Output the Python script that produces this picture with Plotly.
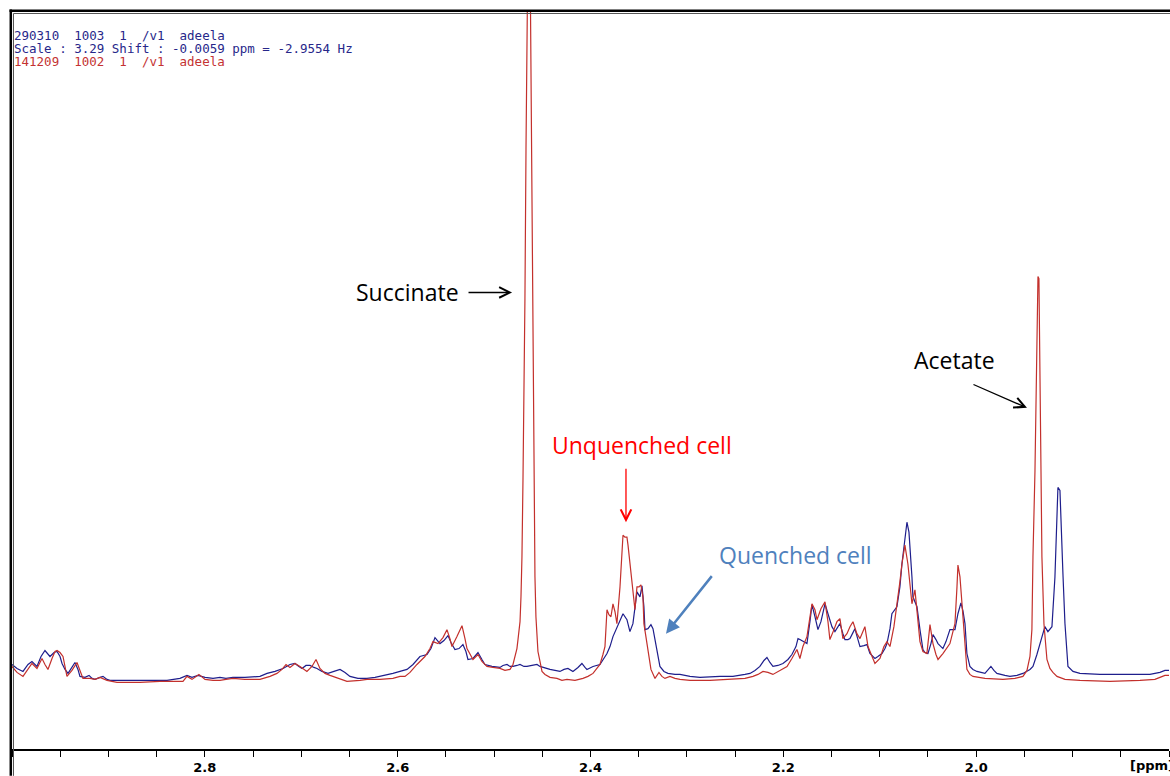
import plotly.graph_objects as go

# 1H NMR overlay, 1.8 - 3.0 ppm
# Quenched sample (290310 1003), blue trace
quenched_ppm = [
    3.0000, 2.9948, 2.9886, 2.9834, 2.9793, 2.9741, 2.9699, 2.9658, 2.9606, 2.9564,
    2.9533, 2.9502, 2.9481, 2.9450, 2.9419, 2.9378, 2.9347, 2.9316, 2.9295, 2.9243,
    2.9201, 2.9170, 2.9139, 2.9087, 2.9056, 2.9015, 2.8984, 2.8776, 2.8569, 2.8392,
    2.8258, 2.8185, 2.8133, 2.8071, 2.7998, 2.7915, 2.7843, 2.7781, 2.7708, 2.7584,
    2.7428, 2.7355, 2.7272, 2.7189, 2.7117, 2.7065, 2.7024, 2.6992, 2.6951, 2.6909,
    2.6868, 2.6837, 2.6785, 2.6723, 2.6661, 2.6598, 2.6546, 2.6495, 2.6412, 2.6318,
    2.6235, 2.6183, 2.6109, 2.6049, 2.5976, 2.5903, 2.5841, 2.5769, 2.5696, 2.5655,
    2.5613, 2.5561, 2.5520, 2.5478, 2.5447, 2.5406, 2.5364, 2.5323, 2.5292, 2.5271,
    2.5219, 2.5167, 2.5126, 2.5095, 2.5022, 2.4939, 2.4908, 2.4866, 2.4835, 2.4804,
    2.4763, 2.4731, 2.4690, 2.4659, 2.4607, 2.4555, 2.4524, 2.4493, 2.4420, 2.4317,
    2.4275, 2.4234, 2.4182, 2.4130, 2.4089, 2.4057, 2.4037, 2.3974, 2.3902, 2.3829,
    2.3798, 2.3767, 2.3715, 2.3663, 2.3622, 2.3591, 2.3560, 2.3518, 2.3487, 2.3466,
    2.3446, 2.3435, 2.3404, 2.3373, 2.3352, 2.3331, 2.3300, 2.3280, 2.3238, 2.3197,
    2.3124, 2.3072, 2.2968, 2.2865, 2.2657, 2.2523, 2.2398, 2.2346, 2.2294, 2.2243,
    2.2201, 2.2170, 2.2139, 2.2108, 2.2056, 2.2004, 2.1952, 2.1911, 2.1869, 2.1848,
    2.1828, 2.1786, 2.1755, 2.1724, 2.1703, 2.1672, 2.1641, 2.1610, 2.1568, 2.1537,
    2.1496, 2.1465, 2.1434, 2.1413, 2.1382, 2.1361, 2.1330, 2.1309, 2.1278, 2.1258,
    2.1226, 2.1205, 2.1164, 2.1133, 2.1102, 2.1050, 2.1019, 2.0977, 2.0946, 2.0925,
    2.0894, 2.0874, 2.0822, 2.0791, 2.0770, 2.0739, 2.0718, 2.0697, 2.0687, 2.0666,
    2.0656, 2.0614, 2.0583, 2.0552, 2.0531, 2.0500, 2.0469, 2.0448, 2.0417, 2.0396,
    2.0345, 2.0313, 2.0272, 2.0220, 2.0189, 2.0158, 2.0137, 2.0116, 2.0096, 2.0065,
    2.0033, 1.9992, 1.9909, 1.9878, 1.9847, 1.9816, 1.9785, 1.9702, 1.9650, 1.9577,
    1.9515, 1.9442, 1.9411, 1.9370, 1.9339, 1.9318, 1.9287, 1.9256, 1.9214, 1.9183,
    1.9162, 1.9152, 1.9131, 1.9121, 1.9100, 1.9079, 1.9059, 1.9048, 1.8996, 1.8924,
    1.8716, 1.8405, 1.8198, 1.8094, 1.8042, 1.7990,
]
quenched_int = [
    1.7, 1.3, 1.0, 1.7, 2.0, 1.5, 2.5, 3.1, 2.5, 2.9,
    3.0, 2.5, 1.8, 1.2, 0.8, 1.5, 1.9, 1.2, 0.5, 0.4,
    0.6, 0.3, 0.2, 0.4, 0.5, 0.2, 0.1, 0.1, 0.1, 0.1,
    0.3, 0.6, 0.4, 0.6, 0.4, 0.3, 0.4, 0.3, 0.4, 0.4,
    0.5, 0.8, 1.0, 1.3, 1.7, 1.8, 1.5, 1.3, 1.6, 1.6,
    1.4, 1.3, 1.0, 0.8, 1.0, 1.2, 0.9, 0.5, 0.3, 0.3,
    0.4, 0.5, 0.7, 0.8, 1.0, 1.2, 1.7, 2.5, 2.7, 3.3,
    4.4, 3.8, 4.1, 4.6, 3.9, 3.2, 3.3, 3.7, 3.0, 2.2,
    2.3, 2.9, 2.2, 1.7, 1.5, 1.4, 1.6, 1.7, 1.5, 1.5,
    1.6, 1.7, 1.5, 1.5, 1.6, 1.7, 1.5, 1.4, 1.2, 1.0,
    1.2, 1.3, 1.0, 1.4, 1.8, 1.4, 1.2, 1.5, 1.7, 2.8,
    3.5, 4.5, 5.7, 6.8, 6.2, 5.0, 5.8, 9.0, 8.5, 9.6,
    7.5, 5.2, 5.3, 5.7, 5.3, 4.2, 2.5, 1.5, 1.0, 0.8,
    0.7, 0.7, 0.5, 0.4, 0.5, 0.5, 0.7, 0.8, 1.1, 1.5,
    2.1, 2.4, 1.9, 1.5, 1.6, 1.8, 2.2, 2.7, 3.5, 4.3,
    4.2, 4.0, 3.8, 6.0, 7.7, 6.5, 5.2, 6.0, 7.8, 6.8,
    5.5, 5.0, 5.5, 5.8, 4.8, 4.2, 4.2, 4.3, 4.9, 5.3,
    4.2, 3.5, 3.6, 3.7, 2.8, 2.3, 2.5, 2.8, 3.3, 3.8,
    5.3, 6.8, 7.5, 9.5, 11.8, 14.5, 16.0, 15.0, 13.8, 10.5,
    8.5, 7.5, 5.2, 3.2, 2.9, 2.8, 3.8, 4.7, 4.2, 3.8,
    3.3, 4.0, 5.2, 5.2, 6.8, 7.9, 7.1, 5.8, 2.8, 1.5,
    1.2, 1.0, 0.8, 1.1, 1.5, 1.1, 0.8, 0.6, 0.5, 0.6,
    0.8, 1.2, 1.5, 2.7, 3.8, 4.4, 5.5, 5.0, 5.5, 10.5,
    15.8, 19.5, 19.2, 15.8, 10.8, 5.8, 2.5, 1.5, 1.0, 0.8,
    0.7, 0.7, 0.7, 0.9, 1.1, 1.1,
]

# Unquenched sample (141209 1002), red trace
unquenched_ppm = [
    3.0000, 2.9948, 2.9886, 2.9834, 2.9793, 2.9741, 2.9689, 2.9658, 2.9627, 2.9585,
    2.9554, 2.9533, 2.9502, 2.9471, 2.9450, 2.9430, 2.9378, 2.9326, 2.9295, 2.9264,
    2.9191, 2.9139, 2.9087, 2.9046, 2.9015, 2.8911, 2.8673, 2.8465, 2.8227, 2.8185,
    2.8133, 2.8061, 2.7998, 2.7915, 2.7843, 2.7781, 2.7708, 2.7584, 2.7428, 2.7324,
    2.7252, 2.7200, 2.7158, 2.7117, 2.7065, 2.7013, 2.6941, 2.6889, 2.6847, 2.6806,
    2.6754, 2.6702, 2.6598, 2.6526, 2.6391, 2.6318, 2.6183, 2.6049, 2.5976, 2.5924,
    2.5872, 2.5800, 2.5717, 2.5665, 2.5634, 2.5582, 2.5530, 2.5489, 2.5458, 2.5437,
    2.5385, 2.5333, 2.5302, 2.5281, 2.5219, 2.5188, 2.5167, 2.5126, 2.5074, 2.5012,
    2.4939, 2.4887, 2.4835, 2.4804, 2.4783, 2.4763, 2.4752, 2.4731, 2.4721, 2.4711,
    2.4700, 2.4690, 2.4680, 2.4669, 2.4664, 2.4643, 2.4623, 2.4612, 2.4607, 2.4597,
    2.4586, 2.4576, 2.4566, 2.4555, 2.4545, 2.4524, 2.4503, 2.4472, 2.4420, 2.4348,
    2.4296, 2.4244, 2.4161, 2.4078, 2.4026, 2.3974, 2.3933, 2.3902, 2.3871, 2.3850,
    2.3829, 2.3809, 2.3788, 2.3767, 2.3746, 2.3726, 2.3694, 2.3674, 2.3663, 2.3643,
    2.3622, 2.3611, 2.3591, 2.3560, 2.3539, 2.3518, 2.3497, 2.3477, 2.3456, 2.3446,
    2.3414, 2.3394, 2.3373, 2.3331, 2.3290, 2.3259, 2.3228, 2.3176, 2.3124, 2.3072,
    2.2968, 2.2761, 2.2523, 2.2398, 2.2315, 2.2263, 2.2211, 2.2160, 2.2108, 2.2035,
    2.1962, 2.1911, 2.1859, 2.1828, 2.1797, 2.1755, 2.1724, 2.1703, 2.1672, 2.1651,
    2.1610, 2.1568, 2.1537, 2.1517, 2.1475, 2.1444, 2.1413, 2.1382, 2.1340, 2.1309,
    2.1278, 2.1237, 2.1205, 2.1154, 2.1122, 2.1081, 2.1050, 2.0998, 2.0957, 2.0925,
    2.0894, 2.0853, 2.0822, 2.0791, 2.0770, 2.0739, 2.0708, 2.0687, 2.0666, 2.0635,
    2.0604, 2.0583, 2.0552, 2.0511, 2.0479, 2.0448, 2.0417, 2.0396, 2.0345, 2.0313,
    2.0272, 2.0241, 2.0220, 2.0199, 2.0189, 2.0168, 2.0158, 2.0127, 2.0096, 2.0065,
    2.0033, 1.9909, 1.9722, 1.9598, 1.9515, 1.9473, 1.9442, 1.9422, 1.9411, 1.9390,
    1.9370, 1.9359, 1.9349, 1.9339, 1.9328, 1.9318, 1.9297, 1.9266, 1.9235, 1.9204,
    1.9162, 1.9079, 1.8924, 1.8613, 1.8301, 1.8146, 1.8094, 1.8042, 1.7990,
]
unquenched_int = [
    1.5, 0.9, 0.5, 1.3, 1.8, 1.3, 2.3, 1.7, 1.2, 2.3,
    3.0, 3.1, 2.9, 2.5, 1.3, 0.5, 1.1, 1.9, 1.1, 0.3,
    0.3, 0.2, 0.4, 0.2, 0.1, -0.1, -0.1, 0.0, 0.0, 0.5,
    0.2, 0.7, 0.2, 0.1, 0.1, 0.2, 0.3, 0.2, 0.2, 0.5,
    0.8, 1.2, 1.7, 1.4, 1.8, 1.5, 1.0, 1.5, 2.2, 1.3,
    0.8, 0.6, 0.2, 0.0, 0.1, 0.2, 0.2, 0.3, 0.5, 0.5,
    0.9, 1.7, 2.5, 3.3, 4.0, 3.8, 4.4, 5.2, 4.3, 3.5,
    4.5, 5.6, 4.3, 3.3, 2.2, 2.5, 2.7, 2.0, 1.5, 1.4,
    1.3, 1.1, 1.2, 1.7, 2.5, 3.3, 4.2, 6.0, 8.5, 12.5,
    20.5, 28.5, 38.5, 53.5, 68.5, 80.0, 68.5, 53.5, 42.5, 28.5,
    18.5, 10.5, 6.5, 4.5, 3.0, 2.0, 1.0, 0.7, 0.4, 0.3,
    0.1, 0.2, 0.1, 0.3, 0.5, 0.8, 1.3, 1.7, 2.7, 3.5,
    7.2, 6.7, 6.5, 7.8, 7.0, 5.8, 9.5, 13.0, 14.7, 14.5,
    14.5, 13.7, 11.8, 8.8, 7.2, 9.5, 9.5, 9.7, 8.5, 5.8,
    3.8, 2.3, 1.2, 0.3, 0.9, 0.5, 0.3, 0.5, 0.3, 0.2,
    0.1, 0.1, 0.2, 0.3, 0.5, 0.7, 1.0, 0.9, 0.7, 1.1,
    1.5, 2.3, 3.2, 2.3, 3.5, 4.5, 6.5, 7.8, 7.2, 6.2,
    7.3, 8.0, 6.0, 4.2, 5.2, 6.0, 6.3, 4.3, 4.8, 5.5,
    6.0, 4.8, 4.3, 5.5, 3.5, 2.5, 1.8, 2.3, 3.5, 4.0,
    3.5, 5.5, 7.5, 10.0, 11.8, 13.7, 11.8, 9.5, 7.8, 9.2,
    5.8, 4.0, 3.0, 2.8, 5.7, 3.8, 2.7, 2.2, 2.8, 3.3,
    3.8, 5.0, 5.8, 9.5, 11.7, 10.5, 9.2, 4.5, 1.2, 0.7,
    0.5, 0.3, 0.2, 0.3, 0.5, 1.1, 2.5, 5.2, 12.5, 21.2,
    32.5, 40.7, 40.5, 32.5, 20.8, 12.5, 5.8, 2.2, 1.3, 0.9,
    0.5, 0.2, 0.1, 0.0, 0.1, 0.2, 0.4, 0.6, 0.6,
]

tick_values = [2.8, 2.6, 2.4, 2.2, 2.0]
tick_labels = ["2.8", "2.6", "2.4", "2.2", "2.0"]

header_lines = [
    ("290310  1003  1  /v1  adeela", "#27278a"),
    ("Scale : 3.29 Shift : -0.0059 ppm = -2.9554 Hz", "#27278a"),
    ("141209  1002  1  /v1  adeela", "#c43232"),
]

BLUE = "#1e1e8c"
RED = "#c3302c"
W, H = 1170, 776
L, R, T, B = 12, 1, 12, 23
PW, PH = W - L - R, H - T - B


def px(x):
    return (x - L) / PW


def py(y):
    return (H - B - y) / PH


fig = go.Figure()
fig.add_trace(go.Scatter(x=quenched_ppm, y=quenched_int, mode="lines",
                         line=dict(color=BLUE, width=1.2), name="Quenched cell",
                         hoverinfo="skip"))
fig.add_trace(go.Scatter(x=unquenched_ppm, y=unquenched_int, mode="lines",
                         line=dict(color=RED, width=1.2), name="Unquenched cell",
                         hoverinfo="skip"))

annotations = []
for i, (txt, col) in enumerate(header_lines):
    annotations.append(dict(xref="paper", yref="paper", x=px(13), y=py(36 + i * 13),
                            xanchor="left", yanchor="middle", showarrow=False, text=txt,
                            borderpad=0,
                            font=dict(family="DejaVu Sans Mono", size=12.5, color=col)))

label_font = dict(family="Open Sans", size=23)
annotations += [
    dict(x=2.5893, y=39.1, text="Succinate", showarrow=False,
         font=dict(label_font, color="black")),
    dict(x=2.4814, y=39.1, ax=-45, ay=0, text="", showarrow=True, arrowhead=5,
         arrowsize=1.6, arrowwidth=1.3, arrowcolor="black"),
    dict(x=2.0220, y=32.3, text="Acetate", showarrow=False,
         font=dict(label_font, color="black")),
    dict(x=1.9473, y=27.5, ax=-55, ay=-24, text="", showarrow=True, arrowhead=5,
         arrowsize=1.6, arrowwidth=1.3, arrowcolor="black"),
    dict(x=2.3466, y=23.8, text="Unquenched cell", showarrow=False,
         font=dict(label_font, color="#ff0000")),
    dict(x=2.3632, y=16.0, ax=0, ay=-55, text="", showarrow=True, arrowhead=5,
         arrowsize=1.6, arrowwidth=1.3, arrowcolor="#ff0000"),
    dict(x=2.1869, y=12.7, text="Quenched cell", showarrow=False,
         font=dict(label_font, color="#4f81bd")),
    dict(x=2.3217, y=4.8, ax=47, ay=-59, text="", showarrow=True, arrowhead=2,
         arrowsize=1.1, arrowwidth=2.5, arrowcolor="#4f81bd"),
    dict(xref="paper", yref="paper", x=px(1128), y=py(770), xanchor="left",
         yanchor="middle", showarrow=False, text="[ppm]",
         font=dict(family="DejaVu Sans", size=13, color="black", weight="bold")),
]

shapes = [
    # outer frame, top and left
    dict(type="line", xref="paper", yref="paper", x0=px(9.5), x1=px(1175),
         y0=py(10.8), y1=py(10.8), line=dict(color="black", width=2.5)),
    dict(type="line", xref="paper", yref="paper", x0=px(10.8), x1=px(10.8),
         y0=py(9.5), y1=py(780), line=dict(color="black", width=2.5)),
    dict(type="line", xref="paper", yref="paper", x0=px(13.5), x1=px(1175),
         y0=py(13.5), y1=py(13.5), line=dict(color="#555555", width=1)),
    dict(type="line", xref="paper", yref="paper", x0=px(13.5), x1=px(13.5),
         y0=py(13.5), y1=py(780), line=dict(color="#555555", width=1)),
]

fig.update_layout(
    width=W, height=H,
    margin=dict(l=L, r=R, t=T, b=B, pad=0),
    paper_bgcolor="white", plot_bgcolor="white",
    showlegend=False,
    annotations=annotations,
    shapes=shapes,
    xaxis=dict(range=[3.0, 1.8], showgrid=False, zeroline=False,
               showline=True, linecolor="black", linewidth=1.5,
               ticks="outside", ticklen=6, tickwidth=1, tickcolor="black",
               tickvals=tick_values, ticktext=tick_labels,
               tickfont=dict(family="DejaVu Sans", size=13, color="black", weight="bold"),
               minor=dict(dtick=0.05, tick0=3.0, ticks="outside", ticklen=6,
                          tickwidth=1, tickcolor="black", showgrid=False)),
    yaxis=dict(range=[-6.8, 67.3], visible=False, showgrid=False, zeroline=False),
)

fig.write_html("out.html")
